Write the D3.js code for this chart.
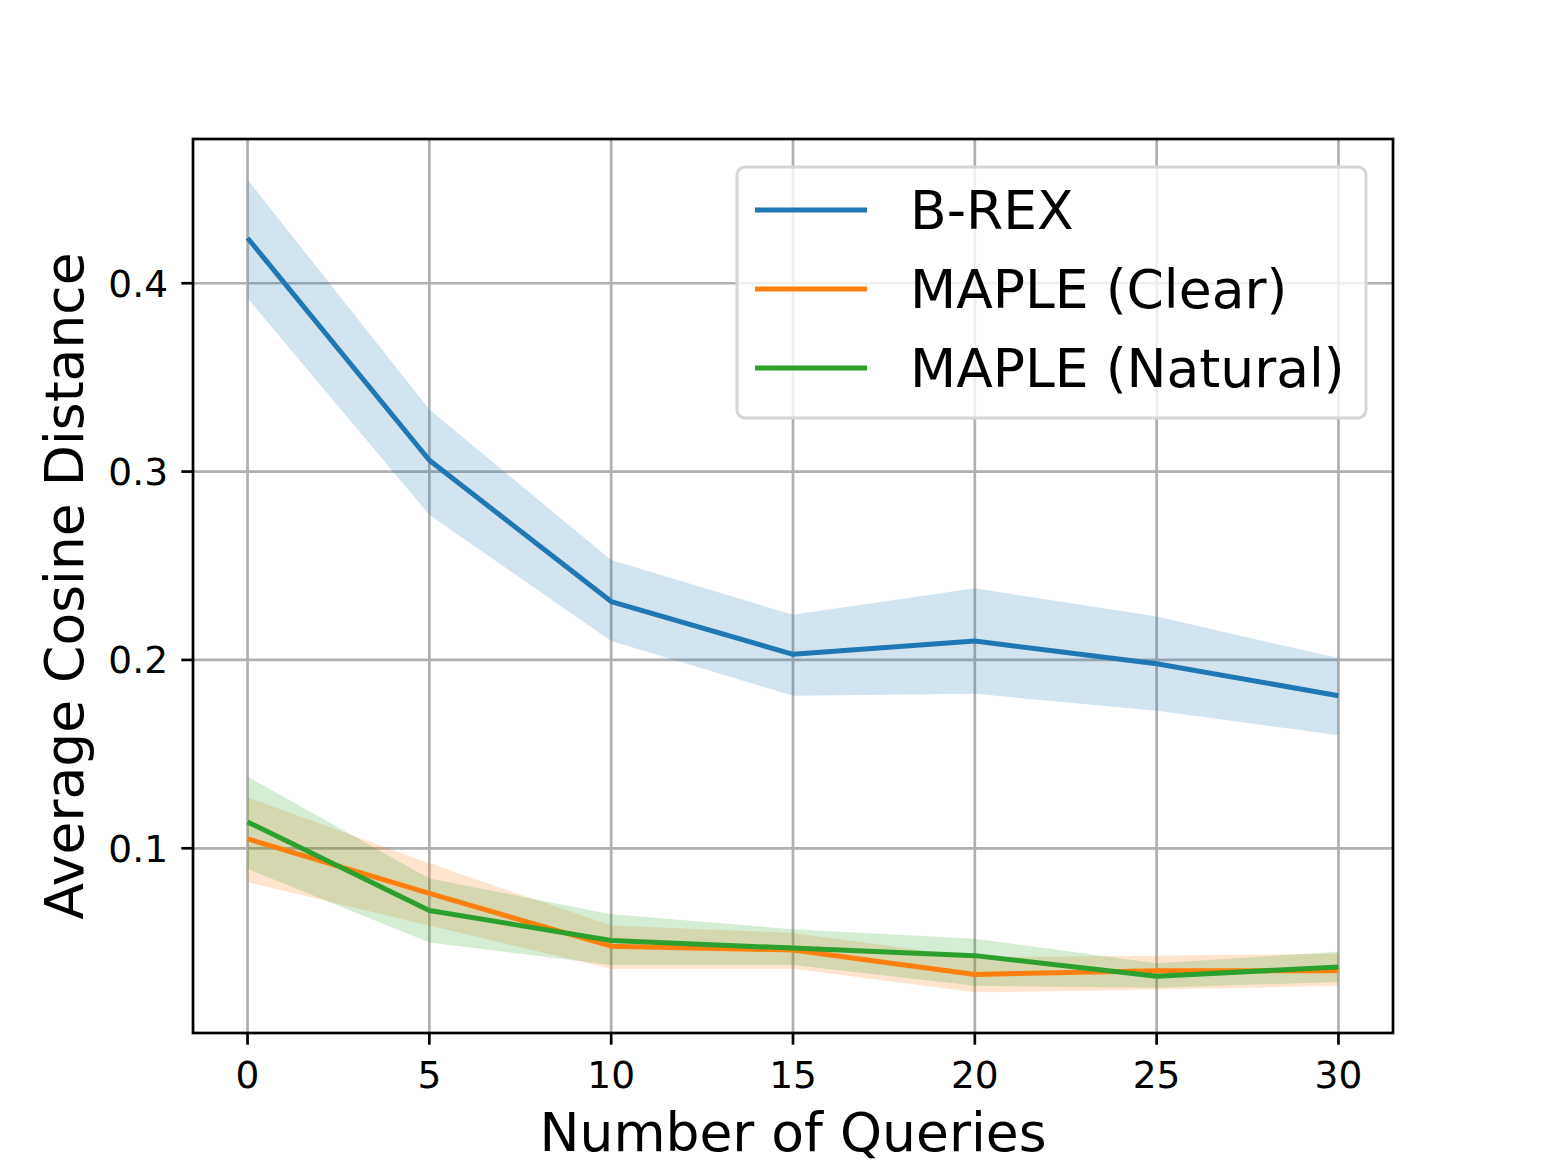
<!DOCTYPE html>
<html lang="en">
  <head>
    <meta charset="UTF-8" />
    <title>Average Cosine Distance</title>
    <style>
      body { margin: 0; background: white; }
      text { font-family: "DejaVu Sans", sans-serif; fill: black; }
    </style>
  </head>
  <body>
    <svg id="svg" width="1549" height="1162"></svg>

    <script src="https://d3js.org/d3.v7.min.js"></script>
    <script>
      const queries = [0, 5, 10, 15, 20, 25, 30];

      const brexMean = [0.424, 0.306, 0.231, 0.203, 0.21, 0.198, 0.181];
      const brexUpper = [0.455, 0.333, 0.253, 0.224, 0.238, 0.223, 0.201];
      const brexLower = [0.392, 0.277, 0.21, 0.181, 0.182, 0.173, 0.16];

      const clearMean = [0.105, 0.076, 0.048, 0.046, 0.033, 0.035, 0.035];
      const clearUpper = [0.127, 0.092, 0.059, 0.055, 0.042, 0.043, 0.044];
      const clearLower = [0.082, 0.059, 0.036, 0.036, 0.0235, 0.025, 0.027];

      const naturalMean = [0.114, 0.067, 0.051, 0.047, 0.043, 0.032, 0.037];
      const naturalUpper = [0.138, 0.084, 0.065, 0.057, 0.052, 0.039, 0.045];
      const naturalLower = [0.089, 0.05, 0.038, 0.038, 0.027, 0.026, 0.029];

      const xTicks = [0, 5, 10, 15, 20, 25, 30];
      const yTicks = [0.1, 0.2, 0.3, 0.4];

      const series = [
        { name: "B-REX", color: "#1f77b4", mean: brexMean, upper: brexUpper, lower: brexLower },
        { name: "MAPLE (Clear)", color: "#ff7f0e", mean: clearMean, upper: clearUpper, lower: clearLower },
        { name: "MAPLE (Natural)", color: "#2ca02c", mean: naturalMean, upper: naturalUpper, lower: naturalLower },
      ];

      // axes box in pixels
      const axLeft = 193, axRight = 1393, axTop = 139, axBottom = 1033;

      // matplotlib-style 5% margins
      const xMin = d3.min(queries), xMax = d3.max(queries);
      const xPad = (xMax - xMin) * 0.05;
      const allLow = d3.min(series, (s) => d3.min(s.lower));
      const allHigh = d3.max(series, (s) => d3.max(s.upper));
      const yPad = (allHigh - allLow) * 0.05;

      const xScale = d3.scaleLinear().domain([xMin - xPad, xMax + xPad]).range([axLeft, axRight]);
      const yScale = d3.scaleLinear().domain([allLow - yPad, allHigh + yPad]).range([axBottom, axTop]);

      const svg = d3.select("#svg");

      // grid
      svg.append("g")
        .selectAll("line")
        .data(xTicks)
        .join("line")
        .attr("x1", (d) => xScale(d))
        .attr("x2", (d) => xScale(d))
        .attr("y1", axTop)
        .attr("y2", axBottom)
        .attr("stroke", "#b0b0b0")
        .attr("stroke-width", 2.7);

      svg.append("g")
        .selectAll("line")
        .data(yTicks)
        .join("line")
        .attr("x1", axLeft)
        .attr("x2", axRight)
        .attr("y1", (d) => yScale(d))
        .attr("y2", (d) => yScale(d))
        .attr("stroke", "#b0b0b0")
        .attr("stroke-width", 2.7);

      const area = d3.area()
        .x((d) => xScale(d.x))
        .y0((d) => yScale(d.lo))
        .y1((d) => yScale(d.hi));

      const line = d3.line()
        .x((d) => xScale(d.x))
        .y((d) => yScale(d.y));

      const pointsOf = (s) =>
        queries.map((q, i) => ({ x: q, y: s.mean[i], lo: s.lower[i], hi: s.upper[i] }));

      // bands first, lines on top
      svg.append("g")
        .selectAll("path")
        .data(series)
        .join("path")
        .attr("d", (s) => area(pointsOf(s)))
        .attr("fill", (s) => s.color)
        .attr("fill-opacity", 0.2);

      svg.append("g")
        .selectAll("path")
        .data(series)
        .join("path")
        .attr("d", (s) => line(pointsOf(s)))
        .attr("fill", "none")
        .attr("stroke", (s) => s.color)
        .attr("stroke-width", 5)
        .attr("stroke-linejoin", "round");

      // spines
      svg.append("rect")
        .attr("x", axLeft)
        .attr("y", axTop)
        .attr("width", axRight - axLeft)
        .attr("height", axBottom - axTop)
        .attr("fill", "none")
        .attr("stroke", "black")
        .attr("stroke-width", 2.7);

      // x ticks
      const xt = svg.append("g").selectAll("g").data(xTicks).join("g");
      xt.append("line")
        .attr("x1", (d) => xScale(d))
        .attr("x2", (d) => xScale(d))
        .attr("y1", axBottom)
        .attr("y2", axBottom + 11.7)
        .attr("stroke", "black")
        .attr("stroke-width", 2.7);
      xt.append("text")
        .attr("x", (d) => xScale(d))
        .attr("y", 1088)
        .attr("text-anchor", "middle")
        .attr("font-size", 37.5)
        .text((d) => d);

      // y ticks
      const yt = svg.append("g").selectAll("g").data(yTicks).join("g");
      yt.append("line")
        .attr("x1", axLeft - 11.7)
        .attr("x2", axLeft)
        .attr("y1", (d) => yScale(d))
        .attr("y2", (d) => yScale(d))
        .attr("stroke", "black")
        .attr("stroke-width", 2.7);
      yt.append("text")
        .attr("x", 168)
        .attr("y", (d) => yScale(d) + 13.5)
        .attr("text-anchor", "end")
        .attr("font-size", 37.5)
        .text((d) => d3.format(".1f")(d));

      // axis labels
      svg.append("text")
        .attr("x", (axLeft + axRight) / 2)
        .attr("y", 1151)
        .attr("text-anchor", "middle")
        .attr("font-size", 53.5)
        .text("Number of Queries");

      svg.append("text")
        .attr("transform", `translate(83,${(axTop + axBottom) / 2}) rotate(-90)`)
        .attr("text-anchor", "middle")
        .attr("font-size", 53.5)
        .text("Average Cosine Distance");

      // legend
      const legend = svg.append("g");
      legend.append("rect")
        .attr("x", 737)
        .attr("y", 167)
        .attr("width", 629)
        .attr("height", 251)
        .attr("rx", 8)
        .attr("fill", "white")
        .attr("fill-opacity", 0.8)
        .attr("stroke", "#d6d6d6")
        .attr("stroke-width", 3);

      const rows = legend.selectAll("g.row")
        .data(series)
        .join("g")
        .attr("class", "row")
        .attr("transform", (d, i) => `translate(0,${210 + i * 79})`);
      rows.append("line")
        .attr("x1", 755)
        .attr("x2", 867)
        .attr("stroke", (d) => d.color)
        .attr("stroke-width", 5);
      rows.append("text")
        .attr("x", 910)
        .attr("y", 19)
        .attr("font-size", 53.5)
        .text((d) => d.name);
    </script>
  </body>
</html>
